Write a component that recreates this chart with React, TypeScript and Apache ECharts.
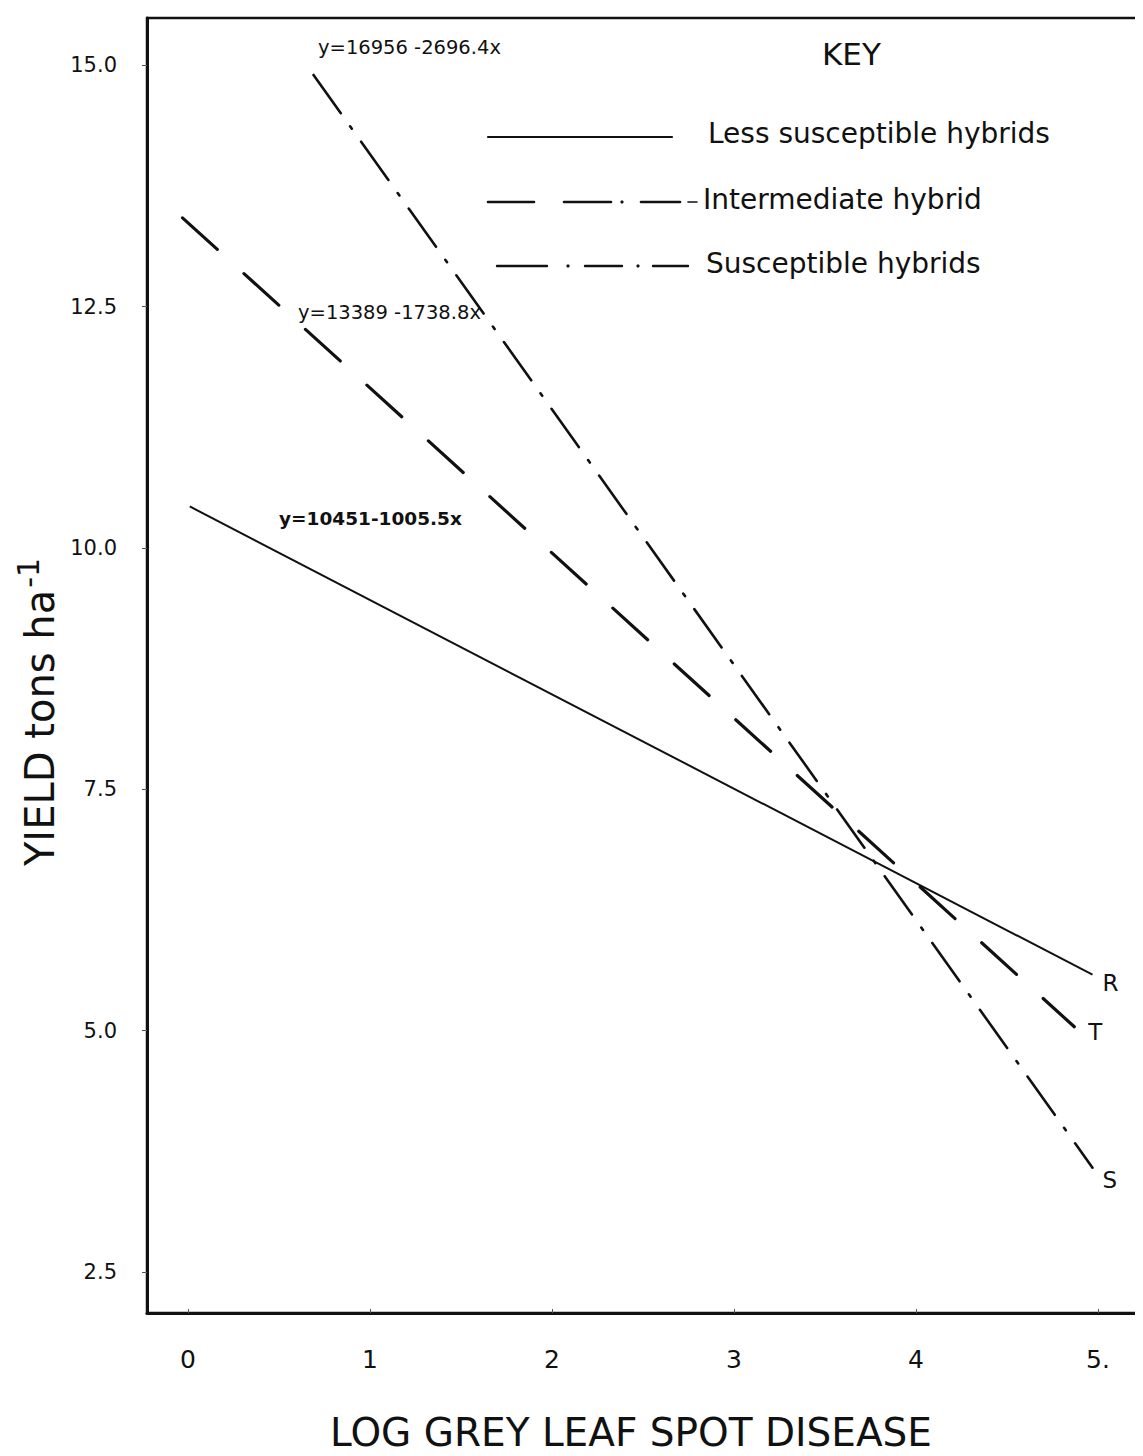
import React, { useEffect, useRef } from "react";
import * as echarts from "echarts";

const xTicks = [0, 1, 2, 3, 4, 5];
const xTickLabels = ["0", "1", "2", "3", "4", "5."];
const yTicks = [2.5, 5, 7.5, 10, 12.5, 15];

const lessSusceptible = [[0.01, 10.43], [4.97, 5.58]];
const intermediate = [[-0.03, 13.42], [4.87, 5.04]];
const susceptible = [[0.69, 14.9], [4.97, 3.58]];

const seriesNames = ["Less susceptible hybrids", "Intermediate hybrid", "Susceptible hybrids"];
const endTags = ["R", "T", "S"];
const equations = ["y=10451-1005.5x", "y=13389 -1738.8x", "y=16956 -2696.4x"];

const FONT = "'DejaVu Sans', sans-serif";

export default function App() {
  const ref = useRef<HTMLDivElement>(null);
  useEffect(() => {
    const chart = echarts.init(ref.current!, null, { renderer: "svg" });
    const ink = "#111";
    const seg = (x1: number, x2: number, y: number, w: number) => ({
      type: "line",
      shape: { x1, y1: y, x2, y2: y },
      style: { stroke: ink, lineWidth: w, lineCap: "round" },
    });
    const dot = (x: number, y: number) => ({ type: "circle", shape: { cx: x, cy: y, r: 1.6 }, style: { fill: ink } });
    chart.setOption({
      animation: false,
      backgroundColor: "#fff",
      grid: { left: 147, right: 5, top: 18, bottom: 143, show: true, borderColor: ink, borderWidth: 2.5, backgroundColor: "transparent" },
      xAxis: {
        type: "value",
        min: -0.225,
        max: 5.22,
        axisLine: { show: true, onZero: false, lineStyle: { color: ink, width: 3 } },
        splitLine: { show: false },
        axisTick: { show: true, inside: true, length: 4, lineStyle: { color: "#555" }, customValues: xTicks },
        axisLabel: {
          customValues: xTicks,
          margin: 34,
          fontSize: 25,
          fontFamily: FONT,
          color: ink,
          formatter: (v: number) => xTickLabels[xTicks.indexOf(Math.round(v))] ?? "",
        },
      },
      yAxis: {
        type: "value",
        min: 2.075,
        max: 15.49,
        axisLine: { show: true, onZero: false, lineStyle: { color: ink, width: 3 } },
        splitLine: { show: false },
        axisTick: { show: true, inside: false, length: 5, lineStyle: { color: "#555" }, customValues: yTicks },
        axisLabel: {
          customValues: yTicks,
          margin: 30,
          fontSize: 21,
          fontFamily: FONT,
          color: ink,
          formatter: (v: number) => v.toFixed(1),
        },
      },
      series: [
        {
          name: seriesNames[0],
          type: "line",
          data: lessSusceptible,
          symbol: "none",
          lineStyle: { color: ink, width: 2 },
          endLabel: { show: true, formatter: endTags[0], fontSize: 23, fontFamily: FONT, color: ink, offset: [2, 8] },
        },
        {
          name: seriesNames[1],
          type: "line",
          data: intermediate,
          symbol: "none",
          lineStyle: { color: ink, width: 3.2, type: [47, 36], cap: "round" },
          endLabel: { show: true, formatter: endTags[1], fontSize: 23, fontFamily: FONT, color: ink, offset: [6, 5] },
        },
        {
          name: seriesNames[2],
          type: "line",
          data: susceptible,
          symbol: "none",
          lineStyle: { color: ink, width: 2.6, type: [47, 16, 3, 16], cap: "round" },
          endLabel: { show: true, formatter: endTags[2], fontSize: 23, fontFamily: FONT, color: ink, offset: [2, 12] },
        },
      ],
      graphic: [
        { type: "text", left: 318, top: 37, style: { text: equations[2], fontSize: 19.5, fontFamily: FONT, fill: ink } },
        { type: "text", left: 298, top: 302, style: { text: equations[1], fontSize: 19.5, fontFamily: FONT, fill: ink } },
        { type: "text", left: 279, top: 509, style: { text: equations[0], fontSize: 18.5, fontFamily: FONT, fill: ink, fontWeight: 600 } },
        { type: "text", left: 822, top: 38, style: { text: "KEY", fontSize: 31, fontFamily: FONT, fill: ink } },
        seg(488, 672, 137, 2.2),
        { type: "text", left: 708, top: 119, style: { text: seriesNames[0], fontSize: 28, fontFamily: FONT, fill: ink } },
        seg(488, 534, 202, 2.6),
        seg(564, 611, 202, 2.6),
        dot(622, 202),
        seg(641, 680, 202, 2.6),
        seg(688, 697, 202, 1.6),
        { type: "text", left: 703, top: 185, style: { text: seriesNames[1], fontSize: 28, fontFamily: FONT, fill: ink } },
        seg(497, 547, 266, 2.4),
        dot(568, 266),
        seg(585, 622, 266, 2.4),
        dot(638, 266),
        seg(653, 688, 266, 2.4),
        { type: "text", left: 706, top: 249, style: { text: seriesNames[2], fontSize: 28, fontFamily: FONT, fill: ink } },
        {
          type: "text",
          x: 631,
          y: 1432,
          style: { text: "LOG GREY LEAF SPOT DISEASE", fontSize: 39, fontFamily: FONT, fill: ink, align: "center", verticalAlign: "middle" },
        },
        {
          type: "text",
          x: 40,
          y: 712,
          rotation: Math.PI / 2,
          style: {
            text: "{m|YIELD tons ha}{s|-1}",
            align: "center",
            verticalAlign: "middle",
            fill: ink,
            rich: {
              m: { fontSize: 40, fontFamily: FONT, fill: ink, color: ink },
              s: { fontSize: 30, fontFamily: FONT, fill: ink, color: ink, verticalAlign: "top", padding: [0, 0, 24, 2] },
            },
          },
        },
      ],
    });
    return () => chart.dispose();
  }, []);
  return <div ref={ref} style={{ width: 1143, height: 1456, margin: -8 }} />;
}
